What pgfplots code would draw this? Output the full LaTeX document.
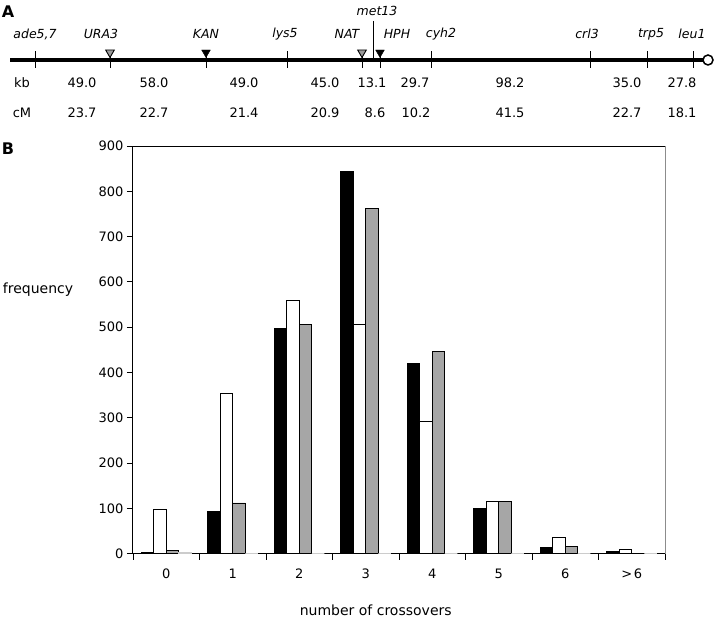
\documentclass[border=0pt]{standalone}
\usepackage{fontspec}
\setmainfont{DejaVu Sans}
\usepackage{pgfplots}
\pgfplotsset{compat=1.18}
\newcommand{\fs}[1]{\fontsize{#1}{#1}\selectfont}
\begin{document}
\begin{tikzpicture}
\path[use as bounding box] (0pt,0pt) rectangle (720pt,620pt);
% ---------------- Panel A: genetic map ----------------
\begin{axis}[at={(0pt,490pt)}, anchor=south west, scale only axis,
  width=720pt, height=130pt, xmin=0, xmax=720, ymin=-130, ymax=0,
  hide axis, clip=false]
\addplot[line width=4pt, no marks] coordinates {(10,-60) (703,-60)};
\addplot[only marks, mark=|, mark size=8.5pt, mark options={line width=1pt}]
  coordinates {(35,-60) (110,-60) (206,-60) (287,-60) (362,-60) (380,-60) (431,-60) (590,-60) (647,-60) (693,-60)};
\addplot[no marks, line width=1pt] coordinates {(373,-21) (373,-60)};
\addplot[only marks, mark=triangle*, mark size=5pt,
  mark options={rotate=180, fill=black!40, draw=black, line width=0.9pt}]
  coordinates {(110,-52.5) (362,-52.5)};
\addplot[only marks, mark=triangle*, mark size=5pt,
  mark options={rotate=180, fill=black, draw=black}]
  coordinates {(206,-52.5) (380,-52.5)};
\addplot[only marks, mark=*, mark size=5pt,
  mark options={fill=white, draw=black, line width=1.5pt}]
  coordinates {(708,-60)};
\node[font=\bfseries\fs{16}] at (axis cs:8,-12) {A};
\begin{scope}[every node/.style={font=\itshape\fs{12.5}}]
\node at (axis cs:35,-34) {ade5,7};
\node at (axis cs:101,-34) {URA3};
\node at (axis cs:206,-34) {KAN};
\node at (axis cs:285,-34) {lys5};
\node at (axis cs:347,-34) {NAT};
\node at (axis cs:377,-11) {met13};
\node at (axis cs:397,-34) {HPH};
\node at (axis cs:441,-34) {cyh2};
\node at (axis cs:587,-34) {crl3};
\node at (axis cs:651,-34) {trp5};
\node at (axis cs:692,-34) {leu1};
\end{scope}
\begin{scope}[every node/.style={font=\fs{13}}]
\node at (axis cs:22,-83) {kb};
\node at (axis cs:82,-83) {49.0};
\node at (axis cs:154,-83) {58.0};
\node at (axis cs:244,-83) {49.0};
\node at (axis cs:325,-83) {45.0};
\node at (axis cs:372,-83) {13.1};
\node at (axis cs:415,-83) {29.7};
\node at (axis cs:510,-83) {98.2};
\node at (axis cs:627,-83) {35.0};
\node at (axis cs:682,-83) {27.8};
\node at (axis cs:22,-113) {cM};
\node at (axis cs:82,-113) {23.7};
\node at (axis cs:154,-113) {22.7};
\node at (axis cs:244,-113) {21.4};
\node at (axis cs:325,-113) {20.9};
\node at (axis cs:375,-113) {8.6};
\node at (axis cs:416,-113) {10.2};
\node at (axis cs:510,-113) {41.5};
\node at (axis cs:627,-113) {22.7};
\node at (axis cs:682,-113) {18.1};
\end{scope}
\end{axis}
% ---------------- Panel B: bar chart ----------------
\begin{axis}[at={(133pt,66.3pt)}, anchor=south west, scale only axis,
  width=532pt, height=407.7pt,
  xmin=-0.5, xmax=7.5, ymin=0, ymax=900,
  ybar=0pt, bar width=12.5pt,
  axis x line*=bottom, axis y line*=left,
  axis line style={line width=1pt},
  tick align=outside, major tick length=6pt,
  tick style={black, line width=0.9pt},
  ytick={0,100,...,900},
  xtick={-0.5,0.5,1.5,2.5,3.5,4.5,5.5,6.5,7.5},
  xticklabels={0,1,2,3,4,5,6,{>\kern1.5pt6}},
  x tick label as interval,
  tick label style={font=\fs{13}},
  /pgf/number format/assume math mode=true,
  xticklabel style={yshift=-6pt},
  clip=false]
\addplot[fill=black, draw=black, line width=0.8pt] coordinates
  {(0,3) (1,93) (2,497) (3,843) (4,419) (5,99) (6,13) (7,4)};
\addplot[fill=white, draw=black, line width=0.9pt] coordinates
  {(0,98) (1,353) (2,560) (3,507) (4,293) (5,116) (6,35) (7,10)};
\addplot[fill=black!35, draw=black, line width=0.9pt] coordinates
  {(0,8) (1,112) (2,506) (3,762) (4,447) (5,116) (6,16) (7,1)};
\addplot[fill=black!8, draw=black!20, line width=0.6pt] coordinates
  {(0,2) (1,0) (2,0) (3,0) (4,0) (5,0) (6,0) (7,0)};
\draw[black, line width=0.9pt] (rel axis cs:0,1) -- (rel axis cs:1,1);
\draw[black!45, line width=0.9pt] (rel axis cs:1,1) -- (rel axis cs:1,0);
\node[font=\fs{14}] at (axis cs:-0.5,582) [xshift=-95pt] {frequency};
\node[font=\fs{14}] at (axis cs:3.15,0) [yshift=-57pt] {number of crossovers};
\node[font=\bfseries\fs{16}] at (axis cs:-0.5,900) [xshift=-125pt, yshift=-3pt] {B};
\end{axis}
\end{tikzpicture}
\end{document}
